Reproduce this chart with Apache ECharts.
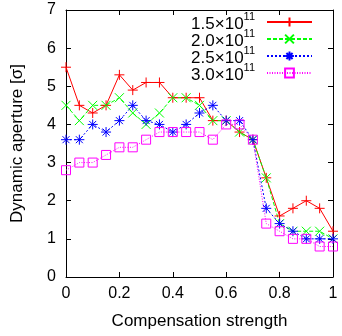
<!DOCTYPE html>
<html>
<head>
<meta charset="utf-8">
<script src="https://cdn.jsdelivr.net/npm/echarts@6/dist/echarts.min.js"></script>
<style>
html, body { margin: 0; padding: 0; background: #fff; }
#chart { width: 342px; height: 336px; }
</style>
</head>
<body>
<div id="chart"></div>
<script>
// compensation strength (x)
var strength = [0, 0.05, 0.1, 0.15, 0.2, 0.25, 0.3, 0.35, 0.4, 0.45, 0.5,
                0.55, 0.6, 0.65, 0.7, 0.75, 0.8, 0.85, 0.9, 0.95, 1];
// dynamic aperture for each bunch intensity
var da15 = [5.5, 4.5, 4.3, 4.5, 5.3, 4.9, 5.1, 5.1, 4.7, 4.7, 4.7,
            4.1, 4.1, 3.8, 3.6, 2.6, 1.6, 1.8, 2.0, 1.8, 1.2];
var da20 = [4.5, 4.1, 4.5, 4.5, 4.7, 4.3, 4.0, 4.3, 4.7, 4.7, 4.5,
            4.1, 4.1, 3.8, 3.6, 2.6, 1.4, 1.2, 1.2, 1.2, 1.0];
var da25 = [3.6, 3.6, 4.0, 3.8, 4.1, 4.5, 4.1, 4.0, 3.8, 4.0, 4.3,
            4.5, 4.1, 4.1, 3.6, 1.8, 1.4, 1.2, 1.0, 1.0, 1.0];
var da30 = [2.8, 3.0, 3.0, 3.2, 3.4, 3.4, 3.6, 3.8, 3.8, 3.8, 3.8,
            3.6, 4.0, 4.0, 3.6, 1.4, 1.2, 1.0, 1.0, 0.8, 0.8];
var names = ['1.5', '2.0', '2.5', '3.0'];

var font = 'Liberation Sans, Arial, sans-serif';

function pairs(ys) {
    var rs = [];
    for (var i = 0; i < strength.length; i++) {
        rs.push([strength[i], ys[i]]);
    }
    return rs;
}

// gnuplot-like point types
var plusSym = 'path://M0,5L10,5M5,0L5,10';
var crossSym = 'path://M0,0L10,10M0,10L10,0';
var starSym = 'path://M0,5L10,5M5,0L5,10M1.5,1.5L8.5,8.5M1.5,8.5L8.5,1.5';
var boxSym = 'path://M0,0L10,0L10,10L0,10Z';

function makeSeries(name, ys, color, dash, symbol, size) {
    return {
        name: name,
        type: 'line',
        data: pairs(ys),
        symbol: symbol,
        symbolSize: size,
        showAllSymbol: true,
        lineStyle: { color: color, width: 1, type: dash },
        itemStyle: { color: 'rgba(0,0,0,0)', borderColor: color, borderWidth: 1 },
        emphasis: { disabled: true },
        animation: false
    };
}

var myChart = echarts.init(document.getElementById('chart'));

var frameAxis = {
    type: 'value',
    axisLine: { show: true, onZero: false, lineStyle: { color: '#000', width: 1 } },
    axisTick: { show: true, inside: true, length: 5, lineStyle: { color: '#000' } },
    splitLine: { show: false }
};

var option = {
    backgroundColor: '#fff',
    animation: false,
    grid: { left: 66, right: 9, top: 10, bottom: 59 },
    xAxis: [
        Object.assign({}, frameAxis, {
            min: 0, max: 1, interval: 0.2, position: 'bottom',
            axisLabel: { color: '#000', fontSize: 16, fontFamily: font, margin: 9 },
            name: 'Compensation strength',
            nameLocation: 'middle',
            nameGap: 36,
            nameTextStyle: { color: '#000', fontSize: 17, fontFamily: font }
        }),
        Object.assign({}, frameAxis, {
            min: 0, max: 1, interval: 0.2, position: 'top',
            axisLabel: { show: false }
        })
    ],
    yAxis: [
        Object.assign({}, frameAxis, {
            min: 0, max: 7, interval: 1, position: 'left',
            axisLabel: { color: '#000', fontSize: 16, fontFamily: font, margin: 10 },
            name: 'Dynamic aperture [σ]',
            nameLocation: 'middle',
            nameGap: 40,
            nameTextStyle: { color: '#000', fontSize: 17, fontFamily: font }
        }),
        Object.assign({}, frameAxis, {
            min: 0, max: 7, interval: 1, position: 'right',
            axisLabel: { show: false }
        })
    ],
    legend: {
        orient: 'vertical',
        right: 29,
        top: 11,
        padding: 0,
        align: 'right',
        itemWidth: 45,
        itemHeight: 11,
        itemGap: -5,
        selectedMode: false,
        formatter: function (name) {
            return '{b|' + name + '×10}{s|11}';
        },
        textStyle: {
            color: '#000',
            fontFamily: font,
            rich: {
                b: { fontSize: 17, lineHeight: 22, fontFamily: font, color: '#000', verticalAlign: 'bottom' },
                s: { fontSize: 11, lineHeight: 11, fontFamily: font, color: '#000', verticalAlign: 'top', padding: [0, 7, 0, 0] }
            }
        },
        data: names
    },
    series: [
        makeSeries(names[0], da15, '#ff0000', 'solid', plusSym, 10),
        makeSeries(names[1], da20, '#00ff00', [4, 2], crossSym, 9),
        makeSeries(names[2], da25, '#0000ff', [2, 2], starSym, 10),
        makeSeries(names[3], da30, '#ff00ff', [1, 1.5], boxSym, 9)
    ]
};

myChart.setOption(option);
</script>
</body>
</html>
